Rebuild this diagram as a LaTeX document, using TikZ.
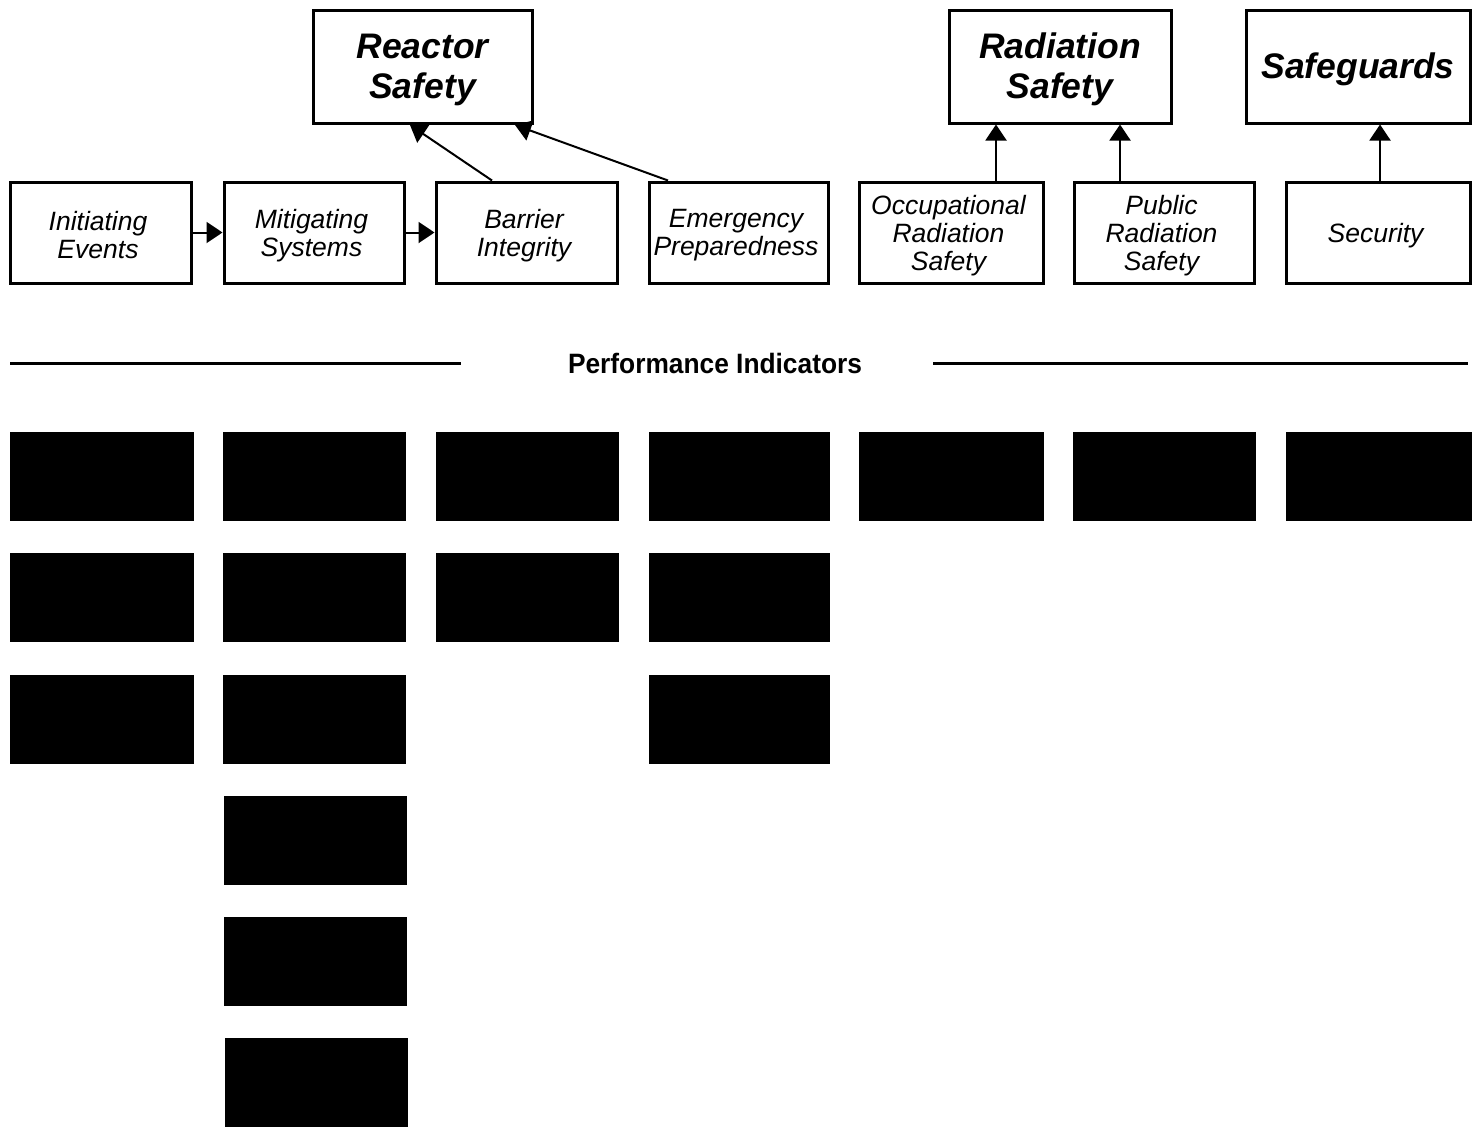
\documentclass[tikz,border=0pt]{standalone}
\usepackage{fontspec}
\setmainfont{Liberation Sans}
\usepackage{graphicx}
\usetikzlibrary{arrows.meta}
\begin{document}
\begin{tikzpicture}[x=1pt,y=-1pt,
  topbox/.style={draw, line width=3pt, minimum height=113pt, inner sep=0pt},
  toplab/.style={align=center, yshift=-3pt, font=\fontsize{35.5}{40}\selectfont\bfseries\itshape},
  subbox/.style={draw, line width=3pt, minimum height=101pt, inner sep=0pt},
  sublab/.style={align=center, yshift=-3pt, xshift=-2.5pt, font=\fontsize{26.5}{28}\selectfont\itshape},
  blk/.style={fill=black, draw=none, inner sep=0pt, minimum height=89pt},
  arr/.style={line width=2pt, -{Triangle[length=16pt,width=21pt]}},
  rule/.style={line width=3pt}]
\useasboundingbox[fill=white] (0,0) rectangle (1479,1127);

% top category boxes
\node[topbox, minimum width=219pt, label={[toplab]center:Reactor\\Safety}] (rs) at (422.5,67) {};
\node[topbox, minimum width=222pt, label={[toplab]center:Radiation\\Safety}] (rads) at (1060,66.5) {};
\node[topbox, minimum width=224pt, label={[toplab]center:Safeguards}] (sg) at (1358,66.5) {};

% cornerstone boxes
\node[subbox, minimum width=181pt, label={[sublab]center:Initiating\\Events}] (ie) at (100.5,232.5) {};
\node[subbox, minimum width=180pt, label={[sublab]center:Mitigating\\Systems}] (ms) at (314,232.5) {};
\node[subbox, minimum width=181pt, label={[sublab]center:Barrier\\Integrity}] (bi) at (526.5,232.5) {};
\node[subbox, minimum width=179pt, label={[sublab]center:Emergency\\Preparedness}] (ep) at (738.5,232.5) {};
\node[subbox, minimum width=184pt, label={[sublab]center:Occupational\\Radiation\\Safety}] (ors) at (951,232.5) {};
\node[subbox, minimum width=180pt, label={[sublab]center:Public\\Radiation\\Safety}] (prs) at (1164,232.5) {};
\node[subbox, minimum width=184pt, label={[sublab]center:Security}] (sec) at (1378,232.5) {};

% connectors
\draw[arr] (ie.east) -- (ms.west);
\draw[arr] (ms.east) -- (bi.west);
\draw[arr] ([xshift=-34.5pt]bi.north) -- ([xshift=-12.5pt]rs.south);
\draw[arr] ([xshift=-70.5pt]ep.north) -- ([xshift=92.5pt]rs.south);
\draw[arr] ([xshift=45pt]ors.north) -- ([xshift=-64pt]rads.south);
\draw[arr] ([xshift=-44pt]prs.north) -- ([xshift=60pt]rads.south);
\draw[arr] ([xshift=2pt]sec.north) -- ([xshift=22pt]sg.south);

% performance indicators rule
\node (pi) at (715,363) {\scalebox{0.94}[1]{\fontsize{28}{30}\selectfont\bfseries Performance Indicators}};
\coordinate (l1) at (10,363);
\coordinate (l2) at (461,363);
\coordinate (r1) at (933,363);
\coordinate (r2) at (1468,363);
\draw[rule] (l1) -- (l2);
\draw[rule] (r1) -- (r2);

% black indicator boxes
\foreach \c/\x/\w in {1/102/184, 2/314.5/183, 3/527.5/183, 4/739.5/181, 5/951.5/185, 6/1164.5/183, 7/1379/186}
  \node[blk, minimum width=\w pt] (b1\c) at (\x,476.5) {};
\foreach \c/\x/\w in {1/102/184, 2/314.5/183, 3/527.5/183, 4/739.5/181}
  \node[blk, minimum width=\w pt] (b2\c) at (\x,597.5) {};
\foreach \c/\x/\w in {1/102/184, 2/314.5/183, 4/739.5/181}
  \node[blk, minimum width=\w pt] (b3\c) at (\x,719) {};
\node[blk, minimum width=183pt] (b42) at (315.5,840) {};
\node[blk, minimum width=183pt] (b52) at (315.5,961) {};
\node[blk, minimum width=183pt] (b62) at (316,1082.5) {};
\end{tikzpicture}
\end{document}
